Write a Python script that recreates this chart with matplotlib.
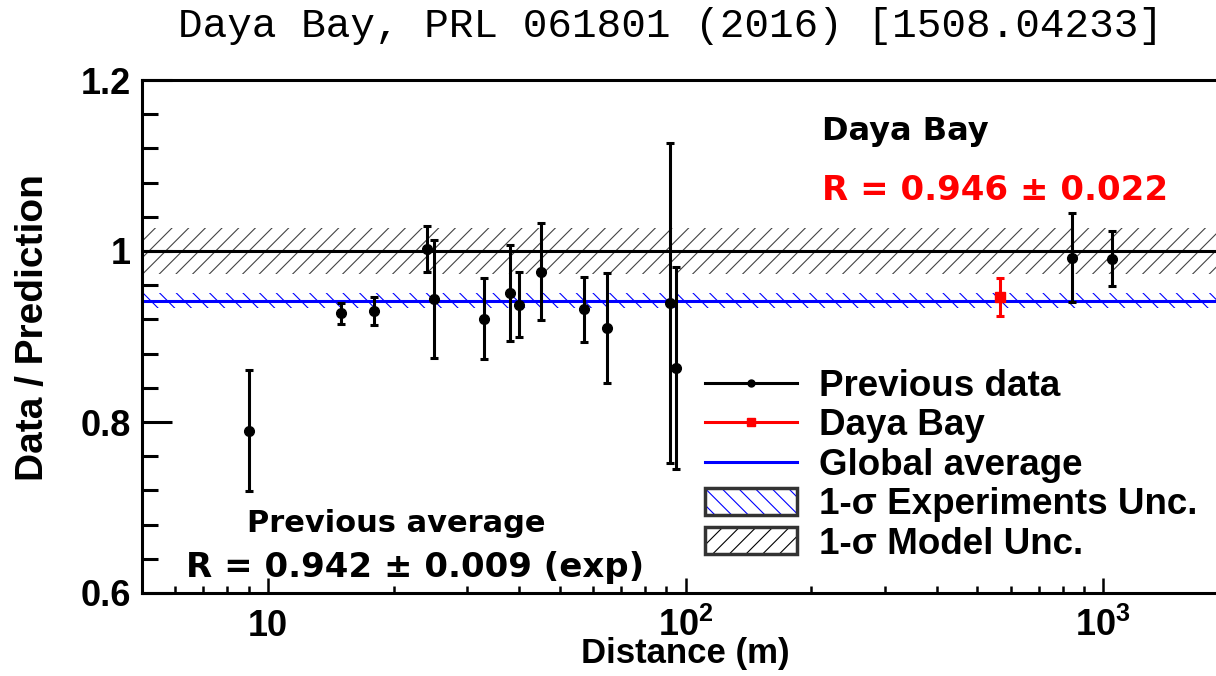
import matplotlib
matplotlib.use('Agg')
import matplotlib.pyplot as plt
from matplotlib.lines import Line2D
from matplotlib.patches import Patch
from matplotlib.ticker import FixedLocator, MultipleLocator, LogLocator, NullFormatter

# previous reactor measurements (distance in m, data/prediction, error)
prev_dist = [9.0, 15.0, 18.0, 24.0, 25.0, 33.0, 38.0, 40.0, 45.0, 57.0, 65.0, 92.0, 95.0, 840.0, 1050.0]
prev_ratio = [0.790, 0.927, 0.930, 1.002, 0.944, 0.921, 0.951, 0.937, 0.976, 0.932, 0.910, 0.939, 0.863, 0.992, 0.991]
prev_err = [0.071, 0.012, 0.016, 0.027, 0.069, 0.047, 0.056, 0.038, 0.057, 0.038, 0.064, 0.187, 0.118, 0.052, 0.032]

# Daya Bay
db_dist = [565.0]
db_ratio = [0.946]
db_err = [0.022]

glob_avg = 0.942
glob_unc = 0.0085
model_unc = 0.027

xticks = [10, 100, 1000]
xticklabels = ['10', r'$10^{2}$', r'$10^{3}$']
yticks = [0.6, 0.8, 1.0, 1.2]
yticklabels = ['0.6', '0.8', '1', '1.2']

plt.rcParams['font.family'] = 'Liberation Sans'
plt.rcParams['font.weight'] = 'bold'
plt.rcParams['axes.labelweight'] = 'bold'
plt.rcParams['mathtext.fontset'] = 'custom'
plt.rcParams['mathtext.rm'] = 'Liberation Sans:bold'
plt.rcParams['mathtext.bf'] = 'Liberation Sans:bold'
plt.rcParams['mathtext.default'] = 'rm'
plt.rcParams['hatch.linewidth'] = 0.8

W, H = 1216, 676
fig = plt.figure(figsize=(W / 100, H / 100), dpi=100)
ax = fig.add_axes([142 / W, 83 / H, 1087 / W, 513 / H])
ax.set_xscale('log')
ax.set_xlim(5, 2000)
ax.set_ylim(0.6, 1.2)

# bands and lines
ax.axhspan(1 - model_unc, 1 + model_unc, fill=False, hatch='//', edgecolor='#444444', lw=0, zorder=1)
ax.axhspan(glob_avg - glob_unc, glob_avg + glob_unc, fill=False, hatch='\\\\', edgecolor='blue', lw=0, zorder=1)
ax.axhline(1.0, color='black', lw=2.2, zorder=2)
ax.axhline(glob_avg, color='blue', lw=2.2, zorder=2)

ax.errorbar(prev_dist, prev_ratio, yerr=prev_err, fmt='o', color='black', ms=7,
            elinewidth=2.2, capsize=2.7, capthick=2.2, zorder=5)
ax.errorbar(db_dist, db_ratio, yerr=db_err, fmt='s', color='red', ms=6.5,
            elinewidth=2.2, capsize=2.7, capthick=2.2, zorder=6)

# axes styling
for s in ['left', 'bottom', 'top']:
    ax.spines[s].set_linewidth(2.2)
ax.spines['right'].set_visible(False)

ax.yaxis.set_major_locator(FixedLocator(yticks))
ax.set_yticklabels(yticklabels)
ax.yaxis.set_minor_locator(MultipleLocator(0.04))
ax.tick_params(axis='y', which='major', direction='in', length=21.5, width=2.2, labelsize=26, pad=8)
ax.tick_params(axis='y', which='minor', direction='in', length=11.5, width=2.2)

ax.xaxis.set_major_locator(FixedLocator(xticks))
ax.set_xticklabels(xticklabels)
ax.xaxis.set_minor_locator(LogLocator(base=10, subs=[2, 3, 4, 5, 6, 7, 8, 9]))
ax.xaxis.set_minor_formatter(NullFormatter())
ax.tick_params(axis='x', which='major', direction='in', length=10.8, width=1.8, labelsize=26, pad=31)
ax.tick_params(axis='x', which='minor', direction='in', length=5, width=1.8)
for lb in ax.get_xticklabels():
    lb.set_verticalalignment('baseline')

ax.set_xlabel('Distance (m)', fontsize=25)
ax.xaxis.set_label_coords(0.5, -0.086)
ax.set_ylabel('Data / Prediction', fontsize=28)
ax.yaxis.set_label_coords(-0.084, 0.518)

# legend
handles = [
    Line2D([], [], color='black', lw=2.2, marker='o', ms=5),
    Line2D([], [], color='red', lw=2.2, marker='s', ms=6),
    Line2D([], [], color='blue', lw=2.2),
    (Patch(fill=False, hatch='\\\\', edgecolor='blue', lw=0),
     Patch(fill=False, edgecolor='#333333', lw=2.5)),
    (Patch(fill=False, hatch='//', edgecolor='black', lw=0),
     Patch(fill=False, edgecolor='#333333', lw=2.5)),
]
labels = ['Previous data', 'Daya Bay', 'Global average',
          '1-σ Experiments Unc.', '1-σ Model Unc.']
fig.legend(handles, labels, loc='upper left', bbox_to_anchor=(705 / W, 1 - 369 / H),
           bbox_transform=fig.transFigure, frameon=False, fontsize=26.5,
           borderaxespad=0, borderpad=0, labelspacing=0.12, handlelength=2.5,
           handleheight=0.75, handletextpad=0.6)

# annotations
cfont = dict(family='DejaVu Sans', weight='bold')
fig.text(822 / W, 1 - 140 / H, 'Daya Bay', fontsize=23, color='black', ha='left', va='baseline', **cfont)
fig.text(822 / W, 1 - 200 / H, 'R = 0.946 ± 0.022', fontsize=24.5, color='red', ha='left', va='baseline', **cfont)
fig.text(247 / W, 1 - 532 / H, 'Previous average', fontsize=22, color='black', ha='left', va='baseline', **cfont)
fig.text(186 / W, 1 - 577 / H, 'R = 0.942 ± 0.009 (exp)', fontsize=24.5, color='black', ha='left', va='baseline', **cfont)

fig.text(670 / W, 1 - 37 / H, 'Daya Bay, PRL 061801 (2016) [1508.04233]', fontsize=29.5,
         family='Liberation Mono', weight='normal', ha='center', va='baseline')

fig.savefig('out.png', dpi=100)
